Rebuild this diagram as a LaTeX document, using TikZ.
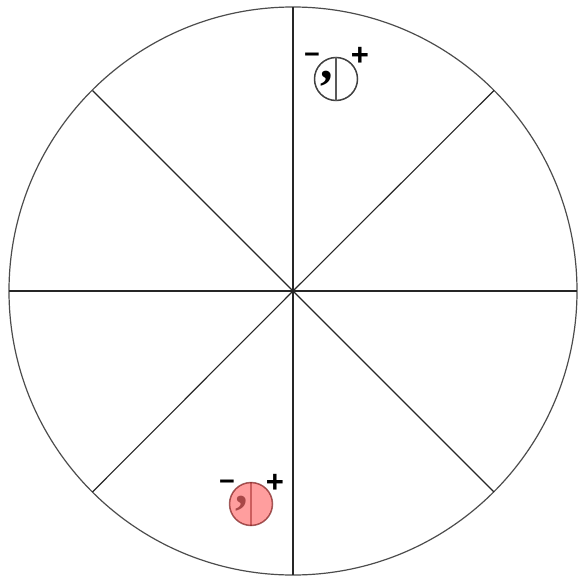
\documentclass[tikz,border=0pt]{standalone}
\usepackage{fontspec}
\setmainfont{Liberation Sans}
\newfontfamily\commafont{Liberation Serif}
\tikzset{
  spoke/.style={draw=black!85,line width=1.1pt},
  rim/.style={draw=black!70,line width=1.2pt},
  badge/.style={circle,draw=black!75,line width=1.5pt,minimum size=43pt,inner sep=0pt},
  divider/.style={draw=black!65,line width=1.5pt},
  commamark/.style={font=\fontsize{50}{50}\selectfont\commafont\bfseries,inner sep=0pt,anchor=center},
  minusmark/.style={font=\fontsize{27}{27}\selectfont\bfseries,inner sep=0pt,anchor=center},
  plusmark/.style={font=\fontsize{31}{31}\selectfont\bfseries,inner sep=0pt,anchor=center},
}
\begin{document}
\begin{tikzpicture}[x=1pt,y=-1pt]
\useasboundingbox (0,0) rectangle (588,580);
\fill[white] (0,0) rectangle (588,580);
\coordinate (hub) at (293,291);
\coordinate (n) at (293,7);
\coordinate (s) at (293,575);
\coordinate (w) at (9,291);
\coordinate (e) at (577,291);
\coordinate (nw) at (92.5,90.5);
\coordinate (ne) at (494,90.5);
\coordinate (sw) at (92.5,492);
\coordinate (se) at (494,492);
\draw[rim] (hub) circle[radius=284];
\foreach \p in {n,s,w,e,nw,ne,sw,se} \draw[spoke] (hub) -- (\p);
% upper badge
\node[commamark] (c1) at (327,79) {,};
\node[badge] (b1) at (336,79) {};
\draw[divider] (b1.north) -- (b1.south);
\node[minusmark] (m1) at (312,58) {\char"2212};
\node[plusmark] (p1) at (360,56) {+};
% lower badge
\node[commamark,text=black!55] (c2) at (242,504) {,};
\node[badge,draw=none,fill=red,fill opacity=0.38] (b2) at (251,504) {};
\draw[draw=red!40!black,opacity=.6,line width=1.5pt] (b2.center) circle[radius=21.5];
\draw[divider,draw=red!50!black,opacity=.4] (b2.north) -- (b2.south);
\node[minusmark] (m2) at (227,485) {\char"2212};
\node[plusmark] (p2) at (275,483) {+};
\end{tikzpicture}
\end{document}
